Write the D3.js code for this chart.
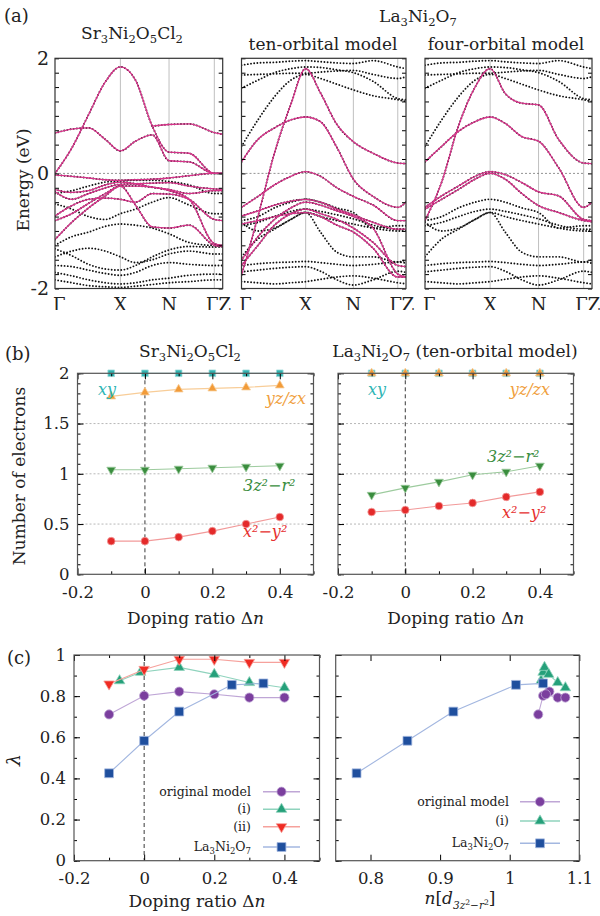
<!DOCTYPE html>
<html>
<head>
<meta charset="utf-8">
<script src="https://cdn.jsdelivr.net/npm/d3@7/dist/d3.min.js"></script>
<style>
  body { margin: 0; background: #fff; }
  svg { display: block; }
  text { font-family: 'DejaVu Serif', serif; fill: #222; }
</style>
</head>
<body>
<div id="figure"></div>
<script>
// ---------- (a) band energies (eV) sampled along the path Γ-X-N-Γ-Z
const kPath = [0, 0.1, 0.2, 0.3, 0.39, 0.48, 0.58, 0.68, 0.8, 0.95, 1]
const kSymLines = [0.39, 0.68, 0.95]
const kLabels = ['Γ', 'X', 'N', 'ΓZ']
const kLabelPos = [0.025, 0.39, 0.68, 0.975]

const srWannier = [
  [0.0, 0.44, 1.02, 1.59, 1.85, 1.62, 0.82, 0.37, 0.35, 0.0, 0.0],
  [0.70, 0.77, 0.79, 0.59, 0.39, 0.56, 0.67, 0.22, 0.20, 0.0, 0.0],
  [null, null, null, null, null, null, 0.82, 0.85, 0.86, 0.71, 0.68],
  [-0.03, -0.05, -0.08, -0.11, -0.12, -0.11, -0.10, -0.08, -0.04, 0.0, 0.0],
  [-0.28, -0.33, -0.30, -0.20, -0.15, -0.18, -0.24, -0.28, -0.35, -0.30, -0.30],
  [-0.32, -0.45, -0.35, -0.25, -0.19, -0.18, -0.17, -0.16, -0.22, -0.27, -0.28],
  [-0.82, -0.70, -0.52, -0.35, -0.22, -0.22, -0.24, -0.30, -0.45, -1.22, -1.25],
  [-0.74, -0.56, -0.45, -0.43, -0.45, -0.50, -0.35, -0.36, -0.45, -0.80, -0.82],
  [-1.15, -0.85, -0.60, -0.39, -0.22, -0.55, -0.93, -0.95, -0.90, -1.25, -1.27]
]
const srDft = [
  [-1.25, -1.10, -1.02, -0.92, -0.88, -0.90, -0.95, -1.05, -1.20, -1.25, -1.25],
  [-1.31, -1.43, -1.58, -1.66, -1.68, -1.60, -1.45, -1.33, -1.27, -1.28, -1.28],
  [-1.45, -1.35, -1.30, -1.35, -1.45, -1.55, -1.50, -1.40, -1.35, -1.40, -1.40],
  [-1.60, -1.62, -1.68, -1.74, -1.77, -1.72, -1.60, -1.55, -1.58, -1.60, -1.60],
  [-1.72, -1.78, -1.85, -1.90, -1.92, -1.90, -1.85, -1.82, -1.77, -1.75, -1.75],
  [-0.53, -0.62, -0.75, -0.80, -0.70, -0.62, -0.50, -0.42, -0.55, -0.70, -0.70],
  [-0.35, -0.30, -0.22, -0.15, -0.13, -0.12, -0.12, -0.14, -0.20, -0.35, -0.35],
  [-1.85, -1.90, -1.95, -1.97, -1.98, -1.96, -1.93, -1.90, -1.88, -1.85, -1.85]
]
const laDft = [
  [1.88, 1.92, 1.93, 1.95, 1.96, 1.94, 1.92, 1.91, 1.96, 1.85, 1.82],
  [1.71, 1.72, 1.73, 1.74, 1.74, 1.76, 1.78, 1.79, 1.72, 1.65, 1.68],
  [1.48, 1.62, 1.75, 1.82, 1.85, 1.84, 1.80, 1.75, 1.60, 1.30, 1.28],
  [0.47, 0.93, 1.33, 1.62, 1.72, 1.65, 1.55, 1.45, 1.35, 1.28, 1.25],
  [-0.82, -0.75, -0.60, -0.50, -0.45, -0.50, -0.60, -0.68, -0.95, -0.91, -0.91],
  [-0.91, -0.85, -0.75, -0.66, -0.62, -0.66, -0.72, -0.79, -0.90, -0.97, -0.97],
  [-0.85, -1.00, -0.95, -0.80, -0.68, -0.75, -0.82, -0.88, -0.95, -1.00, -1.00],
  [-1.45, -1.14, -0.97, -0.80, -0.68, -1.02, -1.37, -1.45, -1.45, -1.54, -1.50],
  [-1.60, -1.57, -1.55, -1.54, -1.53, -1.55, -1.58, -1.60, -1.58, -1.54, -1.56],
  [-1.71, -1.68, -1.65, -1.63, -1.62, -1.70, -1.85, -1.94, -1.85, -1.70, -1.72],
  [-1.88, -1.90, -1.92, -1.90, -1.88, -1.84, -1.80, -1.78, -1.82, -1.90, -1.92]
]
const laTenWannier = [
  [-1.77, -0.75, 0.35, 1.20, 1.82, 1.40, 0.85, 0.55, 0.35, 0.18, 0.17],
  [0.20, 0.59, 0.79, 0.93, 0.98, 0.90, 0.45, -0.10, -0.40, -0.59, -0.50],
  [-0.59, -0.40, -0.20, -0.05, 0.03, -0.05, -0.25, -0.40, -0.55, -0.82, -0.82],
  [-0.74, -0.65, -0.55, -0.48, -0.45, -0.50, -0.62, -0.72, -0.85, -0.97, -0.97],
  [-1.51, -1.10, -0.80, -0.60, -0.50, -0.55, -0.65, -0.75, -0.95, -1.75, -1.80],
  [-1.60, -1.25, -0.90, -0.70, -0.62, -0.70, -0.80, -0.95, -1.20, -1.60, -1.62],
  [-0.88, -0.82, -0.75, -0.70, -0.68, -0.75, -0.90, -1.02, -1.30, -1.80, -1.80]
]
const laFourWannier = [
  [-0.82, -0.15, 0.82, 1.50, 1.82, 1.39, 1.22, 1.19, 0.59, 0.18, 0.17],
  [0.20, 0.47, 0.73, 0.90, 0.98, 0.87, 0.64, 0.56, 0.10, -0.59, -0.50],
  [-0.59, -0.39, -0.22, -0.05, 0.03, -0.02, -0.16, -0.32, -0.39, -0.80, -0.82],
  [-0.62, -0.45, -0.28, -0.10, 0.00, -0.10, -0.35, -0.56, -0.68, -0.82, -0.84]
]

// ---------- (b) number of electrons vs doping
const dopingB = [-0.1, 0, 0.1, 0.2, 0.3, 0.4]
const srXY = [2, 2, 2, 2, 2, 2]
const srYZ = [1.77, 1.81, 1.84, 1.85, 1.86, 1.88]
const sr3z2 = [1.04, 1.04, 1.05, 1.06, 1.07, 1.08]
const srX2 = [0.33, 0.33, 0.37, 0.43, 0.50, 0.57]
const laXY = [2, 2, 2, 2, 2, 2]
const laYZ = [2, 2, 2, 2, 2, 2]
const la3z2 = [0.79, 0.86, 0.92, 0.99, 1.02, 1.08]
const laX2 = [0.62, 0.64, 0.68, 0.71, 0.77, 0.82]

// ---------- (c) eigenvalue lambda
const origDoping = [-0.1, 0, 0.1, 0.2, 0.3, 0.4]
const origLambda = [0.711, 0.802, 0.822, 0.809, 0.793, 0.793]
const iDoping = [-0.07, -0.01, 0.1, 0.2, 0.3, 0.4]
const iLambda = [0.875, 0.916, 0.94, 0.906, 0.866, 0.841]
const iiDoping = [-0.1, 0, 0.1, 0.2, 0.3, 0.4]
const iiLambda = [0.859, 0.93, 0.979, 0.979, 0.964, 0.964]
const laDoping = [-0.1, 0, 0.1, 0.25, 0.34]
const laLambda = [0.425, 0.583, 0.725, 0.855, 0.862]
const origN = [1.041, 1.048, 1.057, 1.052, 1.069, 1.08]
const iN = [1.045, 1.048, 1.05, 1.056, 1.069, 1.08]
const laN = [0.78, 0.853, 0.919, 1.009, 1.048]

const pink = '#d7338a'

const svg = d3.select('#figure').append('svg').attr('width', 600).attr('height', 916)

// text with sub/superscript spans
function rich(g, x, y, spans, size, anchor, color) {
  const t = g.append('text').attr('x', x).attr('y', y).attr('font-size', size)
    .attr('text-anchor', anchor || 'start')
  if (color) t.style('fill', color)
  let off = 0
  spans.forEach(s => {
    const o = s.off || 0
    t.append('tspan').attr('dy', o - off)
      .attr('font-size', s.size ? size * s.size : size)
      .attr('font-style', s.it ? 'italic' : null)
      .text(s.t)
    off = o
  })
  return t
}
function formula(str, sub) {
  return str.match(/[A-Za-z]+|\d+|[^A-Za-z\d]+/g)
    .map(p => /^\d+$/.test(p) ? { t: p, off: sub, size: 0.68 } : { t: p })
}
function cleanAxis(g) {
  g.select('.domain').remove()
  g.attr('font-family', null).attr('font-size', null)
}

// ---------- panel (a)
const aTop = 58.3, aBottom = 288.5

function drawBands(id, x0, x1, wannier, dft, yLabels) {
  const x = d3.scaleLinear().domain([0, 1]).range([x0, x1])
  const y = d3.scaleLinear().domain([-2, 2]).range([aBottom, aTop])
  svg.append('clipPath').attr('id', id).append('rect')
    .attr('x', x0).attr('y', aTop).attr('width', x1 - x0).attr('height', aBottom - aTop)
  const g = svg.append('g').attr('clip-path', `url(#${id})`)
  const line = d3.line()
    .defined(d => d[1] !== null)
    .x(d => x(d[0])).y(d => y(d[1]))
    .curve(d3.curveMonotoneX)
  const pts = b => b.map((e, i) => [kPath[i], e])

  g.selectAll('line.sym').data(kSymLines).join('line').attr('class', 'sym')
    .attr('x1', d => x(d)).attr('x2', d => x(d)).attr('y1', aTop).attr('y2', aBottom)
    .attr('stroke', '#b8b8b8').attr('stroke-width', 0.9)
  g.append('line').attr('x1', x(0)).attr('x2', x(0.95)).attr('y1', y(0)).attr('y2', y(0))
    .attr('stroke', '#777').attr('stroke-width', 0.8).attr('stroke-dasharray', '2,2')

  g.selectAll('path.dft').data(dft.concat(wannier)).join('path').attr('class', 'dft')
    .attr('d', d => line(pts(d)))
    .attr('fill', 'none').attr('stroke', '#111').attr('stroke-width', 1.9)
    .attr('stroke-linecap', 'round').attr('stroke-dasharray', '0,3.2')
  g.selectAll('path.wan').data(wannier).join('path').attr('class', 'wan')
    .attr('d', d => line(pts(d)))
    .attr('fill', 'none').attr('stroke', pink).attr('stroke-width', 1.3)

  svg.append('g').attr('transform', `translate(${x0},0)`)
    .call(d3.axisLeft(y).tickValues(d3.range(-2, 2.01, 0.25)).tickSize(-4).tickFormat(''))
    .call(cleanAxis)
  svg.append('g').attr('transform', `translate(${x1},0)`)
    .call(d3.axisRight(y).tickValues(d3.range(-2, 2.01, 0.25)).tickSize(-4).tickFormat(''))
    .call(cleanAxis)
  if (yLabels) {
    svg.append('g').attr('transform', `translate(${x0},0)`)
      .call(d3.axisLeft(y).tickValues([-2, 0, 2]).tickSize(0).tickPadding(6).tickFormat(d => d))
      .call(cleanAxis)
      .call(a => a.selectAll('text').attr('font-size', 19))
  }
  svg.append('rect').attr('x', x0).attr('y', aTop).attr('width', x1 - x0).attr('height', aBottom - aTop)
    .attr('fill', 'none').attr('stroke', '#333').attr('stroke-width', 1.2)

  const lab = svg.append('g').attr('clip-path', 'url(#kclip)')
  lab.selectAll('text').data(kLabels).join('text')
    .attr('x', (d, i) => x(kLabelPos[i])).attr('y', 311)
    .attr('text-anchor', 'middle').attr('font-size', 18).text(d => d)
}

svg.append('clipPath').attr('id', 'kclip').append('rect')
  .attr('x', 0).attr('y', 0).attr('width', 600).attr('height', 310)

drawBands('a1', 55, 222.7, srWannier, srDft, true)
drawBands('a2', 241.5, 406, laTenWannier, laDft, false)
drawBands('a3', 425, 592, laFourWannier, laDft, false)

svg.append('text').attr('x', 4).attr('y', 22).attr('font-size', 18).text('(a)')
rich(svg, 132, 39, formula('Sr3Ni2O5Cl2', 4), 17, 'middle')
rich(svg, 418, 22, formula('La3Ni2O7', 4), 17, 'middle')
svg.append('text').attr('x', 323).attr('y', 50).attr('font-size', 17).attr('text-anchor', 'middle').text('ten-orbital model')
svg.append('text').attr('x', 506).attr('y', 50).attr('font-size', 17).attr('text-anchor', 'middle').text('four-orbital model')
svg.append('text').attr('transform', 'translate(29,180) rotate(-90)').attr('font-size', 17)
  .attr('text-anchor', 'middle').text('Energy (eV)')

// ---------- panel (b)
const bTop = 373.3, bBottom = 574.3

function drawOcc(x0, x1, series, showY) {
  const x = d3.scaleLinear().domain([-0.2, 0.5]).range([x0, x1])
  const y = d3.scaleLinear().domain([0, 2]).range([bBottom, bTop])
  const g = svg.append('g')
  g.selectAll('line.grid').data([0.5, 1, 1.5]).join('line').attr('class', 'grid')
    .attr('x1', x0).attr('x2', x1).attr('y1', d => y(d)).attr('y2', d => y(d))
    .attr('stroke', '#999').attr('stroke-width', 0.7).attr('stroke-dasharray', '2,2')
  g.append('line').attr('x1', x(0)).attr('x2', x(0)).attr('y1', bTop).attr('y2', bBottom)
    .attr('stroke', '#222').attr('stroke-width', 0.9).attr('stroke-dasharray', '4,3')

  const axes = [
    [d3.axisLeft(y), x0, 0, d3.range(0, 2.01, 0.1), 3],
    [d3.axisLeft(y), x0, 0, [0, 0.5, 1, 1.5, 2], 6],
    [d3.axisRight(y), x1, 0, d3.range(0, 2.01, 0.1), 3],
    [d3.axisRight(y), x1, 0, [0, 0.5, 1, 1.5, 2], 6],
    [d3.axisBottom(x), 0, bBottom, [-0.1, 0.1, 0.3, 0.5], 3],
    [d3.axisTop(x), 0, bTop, [-0.1, 0.1, 0.3, 0.5], 3],
    [d3.axisTop(x), 0, bTop, [-0.2, 0, 0.2, 0.4], 6]
  ]
  axes.forEach(([ax, tx, ty, vals, len]) => {
    svg.append('g').attr('transform', `translate(${tx},${ty})`)
      .call(ax.tickValues(vals).tickSize(-len).tickFormat('')).call(cleanAxis)
  })
  svg.append('g').attr('transform', `translate(0,${bBottom})`)
    .call(d3.axisBottom(x).tickValues([-0.2, 0, 0.2, 0.4]).tickSize(-6).tickPadding(12).tickFormat(d => d))
    .call(cleanAxis).call(a => a.selectAll('text').attr('font-size', 16.5))
  if (showY) {
    svg.append('g').attr('transform', `translate(${x0},0)`)
      .call(d3.axisLeft(y).tickValues([0, 0.5, 1, 1.5, 2]).tickSize(0).tickPadding(8).tickFormat(d => d))
      .call(cleanAxis).call(a => a.selectAll('text').attr('font-size', 16.5))
  }

  const line = d3.line().x(d => x(d[0])).y(d => y(d[1]))
  series.forEach(s => {
    const pts = d3.zip(dopingB, s.values)
    g.append('path').datum(pts).attr('d', line).attr('fill', 'none')
      .attr('stroke', s.light).attr('stroke-width', 1.1)
    g.selectAll(null).data(pts).join('path')
      .attr('d', d3.symbol(s.symbol, s.size))
      .attr('transform', d => `translate(${x(d[0])},${y(d[1])}) rotate(${s.rot || 0})`)
      .attr('fill', s.color).attr('stroke', s.light).attr('stroke-width', 0.8)
  })
  svg.append('rect').attr('x', x0).attr('y', bTop).attr('width', x1 - x0).attr('height', bBottom - bTop)
    .attr('fill', 'none').attr('stroke', '#555').attr('stroke-width', 1.2)
  svg.append('text').attr('x', (x0 + x1) / 2).attr('y', 624).attr('font-size', 17)
    .attr('text-anchor', 'middle')
    .call(t => { t.append('tspan').text('Doping ratio Δ'); t.append('tspan').attr('font-style', 'italic').text('n') })
}

const teal = { color: '#31b3b1', light: '#9fdcda', symbol: d3.symbolSquare, size: 44 }
const orange = { color: '#f29b38', light: '#f8cd98', symbol: d3.symbolTriangle, size: 34 }
const greenB = { color: '#3a8d3e', light: '#9dcb9e', symbol: d3.symbolTriangle, size: 34, rot: 180 }
const redB = { color: '#e42a2a', light: '#f29a9a', symbol: d3.symbolCircle, size: 46 }

drawOcc(77.5, 313.5, [
  Object.assign({ values: srXY }, teal),
  Object.assign({ values: srYZ }, orange),
  Object.assign({ values: sr3z2 }, greenB),
  Object.assign({ values: srX2 }, redB)
], true)
drawOcc(338, 573.5, [
  Object.assign({ values: laXY }, teal),
  Object.assign({ values: laYZ }, orange),
  Object.assign({ values: la3z2 }, greenB),
  Object.assign({ values: laX2 }, redB)
], false)

svg.append('text').attr('x', 5).attr('y', 360).attr('font-size', 18).text('(b)')
rich(svg, 190, 357, formula('Sr3Ni2O5Cl2', 4), 17, 'middle')
rich(svg, 455, 357, formula('La3Ni2O7 (ten-orbital model)', 4), 17, 'middle')
svg.append('text').attr('transform', 'translate(25,476) rotate(-90)').attr('font-size', 17)
  .attr('text-anchor', 'middle').text('Number of electrons')

function orbLabel(x, y, str, color, anchor) {
  const t = svg.append('text').attr('x', x).attr('y', y).attr('font-size', 16)
    .attr('font-style', 'italic').attr('text-anchor', anchor || 'start').style('fill', color).text(str)
  return t
}
orbLabel(98, 395, 'xy', '#2fb5b5')
orbLabel(306, 404, 'yz/zx', '#f0a040', 'end')
orbLabel(243, 491, '3z²−r²', '#3a8d3e')
orbLabel(243, 537, 'x²−y²', '#e63030')
orbLabel(368, 395, 'xy', '#2fb5b5')
orbLabel(550, 395, 'yz/zx', '#f0a040', 'end')
orbLabel(487, 462, '3z²−r²', '#3a8d3e')
orbLabel(502, 518, 'x²−y²', '#e63030')

// ---------- panel (c)
const cTop = 655, cBottom = 860.7

const purple = { color: '#7b3f9e', light: '#bfa6d6', symbol: d3.symbolCircle, size: 66 }
const greenC = { color: '#25a07a', light: '#8fd3bd', symbol: d3.symbolTriangle, size: 48 }
const redC = { color: '#ef2b23', light: '#f6a19c', symbol: d3.symbolTriangle, size: 48, rot: 180 }
const blueC = { color: '#1f4f9e', light: '#a3b7e0', symbol: d3.symbolSquare, size: 78 }

function drawLambda(x0, x1, domain, xTicks, xMinor, series, showY, zeroLine) {
  const x = d3.scaleLinear().domain(domain).range([x0, x1])
  const y = d3.scaleLinear().domain([0, 1]).range([cBottom, cTop])
  const g = svg.append('g')
  if (zeroLine) {
    g.append('line').attr('x1', x(0)).attr('x2', x(0)).attr('y1', cTop).attr('y2', cBottom)
      .attr('stroke', '#222').attr('stroke-width', 0.9).attr('stroke-dasharray', '4,3')
  }
  const axes = [
    [d3.axisLeft(y), x0, 0, d3.range(0, 1.01, 0.1), 3],
    [d3.axisLeft(y), x0, 0, [0, 0.2, 0.4, 0.6, 0.8, 1], 6],
    [d3.axisRight(y), x1, 0, d3.range(0, 1.01, 0.1), 3],
    [d3.axisRight(y), x1, 0, [0, 0.2, 0.4, 0.6, 0.8, 1], 6],
    [d3.axisBottom(x), 0, cBottom, xMinor, 3],
    [d3.axisTop(x), 0, cTop, xMinor, 3],
    [d3.axisTop(x), 0, cTop, xTicks, 6]
  ]
  axes.forEach(([ax, tx, ty, vals, len]) => {
    svg.append('g').attr('transform', `translate(${tx},${ty})`)
      .call(ax.tickValues(vals).tickSize(-len).tickFormat('')).call(cleanAxis)
  })
  svg.append('g').attr('transform', `translate(0,${cBottom})`)
    .call(d3.axisBottom(x).tickValues(xTicks).tickSize(-6).tickPadding(12).tickFormat(d => d))
    .call(cleanAxis).call(a => a.selectAll('text').attr('font-size', 16.5))
  if (showY) {
    svg.append('g').attr('transform', `translate(${x0},0)`)
      .call(d3.axisLeft(y).tickValues([0, 0.2, 0.4, 0.6, 0.8, 1]).tickSize(0).tickPadding(8).tickFormat(d => d))
      .call(cleanAxis).call(a => a.selectAll('text').attr('font-size', 16.5))
  }
  const line = d3.line().x(d => x(d[0])).y(d => y(d[1]))
  series.forEach(s => {
    const pts = d3.zip(s.xs, s.ys)
    g.append('path').datum(pts).attr('d', line).attr('fill', 'none')
      .attr('stroke', s.light).attr('stroke-width', 1.1)
    g.selectAll(null).data(pts).join('path')
      .attr('d', d3.symbol(s.symbol, s.size))
      .attr('transform', d => `translate(${x(d[0])},${y(d[1])}) rotate(${s.rot || 0})`)
      .attr('fill', s.color).attr('stroke', s.light).attr('stroke-width', 0.8)
  })
  svg.append('rect').attr('x', x0).attr('y', cTop).attr('width', x1 - x0).attr('height', cBottom - cTop)
    .attr('fill', 'none').attr('stroke', '#555').attr('stroke-width', 1.2)
}

function legend(xText, xl0, xl1, entries, ys) {
  entries.forEach((e, i) => {
    svg.append('line').attr('x1', xl0).attr('x2', xl1).attr('y1', ys[i]).attr('y2', ys[i])
      .attr('stroke', e.style.light).attr('stroke-width', 1.4)
    svg.append('path').attr('d', d3.symbol(e.style.symbol, e.style.size)())
      .attr('transform', `translate(${(xl0 + xl1) / 2},${ys[i]}) rotate(${e.style.rot || 0})`)
      .attr('fill', e.style.color).attr('stroke', e.style.light).attr('stroke-width', 0.8)
    rich(svg, xText, ys[i] + 4, formula(e.label, 3), 12.5, 'end')
  })
}

drawLambda(74, 319.5, [-0.2, 0.5], [-0.2, 0, 0.2, 0.4], [-0.1, 0.1, 0.3, 0.5], [
  Object.assign({ xs: origDoping, ys: origLambda }, purple),
  Object.assign({ xs: iDoping, ys: iLambda }, greenC),
  Object.assign({ xs: iiDoping, ys: iiLambda }, redC),
  Object.assign({ xs: laDoping, ys: laLambda }, blueC)
], true, true)
drawLambda(335.7, 579.3, [0.75, 1.1], [0.8, 0.9, 1, 1.1], [], [
  Object.assign({ xs: origN, ys: origLambda }, purple),
  Object.assign({ xs: iN, ys: iLambda }, greenC),
  Object.assign({ xs: laN, ys: laLambda }, blueC)
], false, false)

legend(251, 263, 300, [
  { label: 'original model', style: purple },
  { label: '(i)', style: greenC },
  { label: '(ii)', style: redC },
  { label: 'La3Ni2O7', style: blueC }
], [791.7, 809.3, 826.7, 847])
legend(509, 520, 560, [
  { label: 'original model', style: purple },
  { label: '(i)', style: greenC },
  { label: 'La3Ni2O7', style: blueC }
], [801.7, 821, 843.3])

svg.append('text').attr('x', 7).attr('y', 664).attr('font-size', 18).text('(c)')
svg.append('text').attr('transform', 'translate(20,760) rotate(-90)').attr('font-size', 19)
  .attr('text-anchor', 'middle').attr('font-style', 'italic').text('λ')
svg.append('text').attr('x', 197).attr('y', 907).attr('font-size', 17).attr('text-anchor', 'middle')
  .call(t => { t.append('tspan').text('Doping ratio Δ'); t.append('tspan').attr('font-style', 'italic').text('n') })
rich(svg, 460, 904, [
  { t: 'n', it: true }, { t: '[' }, { t: 'd', it: true },
  { t: '3z', it: true, off: 5, size: 0.62 }, { t: '2', off: 1, size: 0.45 },
  { t: '−r', it: true, off: 5, size: 0.62 }, { t: '2', off: 1, size: 0.45 },
  { t: ']', off: 0 }
], 17, 'middle')
</script>
</body>
</html>
